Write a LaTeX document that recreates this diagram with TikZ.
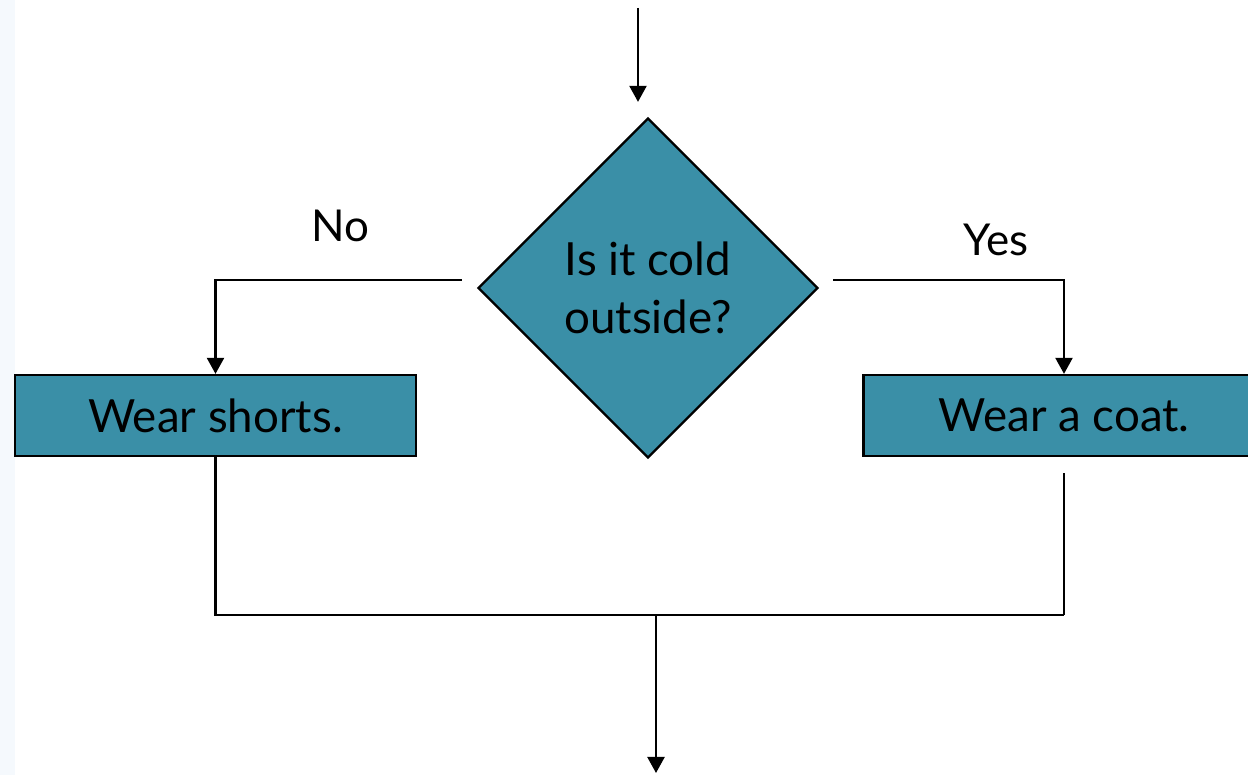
\documentclass[tikz,border=0pt]{standalone}
\usepackage{fontspec}
\setmainfont{Lato}
\usetikzlibrary{arrows.meta,positioning,shapes.geometric}
\definecolor{tealbox}{HTML}{3A8FA7}
\definecolor{edgestrip}{HTML}{F5F9FD}

\begin{document}
\begin{tikzpicture}[
    every node/.style={font=\fontsize{26}{33}\selectfont},
    flowline/.style={line width=1.3pt, black},
    flowarrow/.style={flowline, -{Triangle[length=0.32cm, width=0.34cm]}},
    actionbox/.style={draw=black, line width=1.3pt, fill=tealbox, minimum width=8.02cm, minimum height=1.62cm, inner sep=0pt},
    decisionbox/.style={diamond, draw=black, line width=1.3pt, fill=tealbox, minimum width=6.8cm, minimum height=6.8cm, inner sep=0pt, align=center},
    branchlabel/.style={font=\fontsize{25}{30}\selectfont},
]
\useasboundingbox (0,0) rectangle (24.96,15.5);
\fill[edgestrip] (0,0) rectangle (0.3,15.5);

% Decision and the two actions
\node[decisionbox] (cold) at (12.96,9.74) {Is it cold\\outside?};
\node[actionbox] (shorts) at (4.31,7.19) {Wear shorts.};
\node[actionbox] (coat) at (21.28,7.19) {Wear a coat.};

% Entry and exit points
\coordinate (entry) at (12.76,15.34);
\coordinate (merge) at (13.12,3.2);
\coordinate (exit) at (13.12,0.04);

% Into the decision
\draw[flowarrow, shorten >=0.3cm] (entry) -- (entry |- cold.north);

% No branch
\draw[flowarrow] ([xshift=-0.3cm, yshift=0.16cm]cold.west) -| (shorts.north);
\node[branchlabel] (nolabel) at (6.8,10.98) {No};

% Yes branch
\draw[flowarrow] ([xshift=0.28cm, yshift=0.16cm]cold.east) -| (coat.north);
\node[branchlabel] (yeslabel) at (19.92,10.7) {Yes};

% Join both actions and leave
\draw[flowline] (shorts.south) |- (coat.south |- merge);
\draw[flowline, shorten <=0.32cm] (coat.south) -- (coat.south |- merge);
\draw[flowarrow] (merge) -- (exit);

\end{tikzpicture}
\end{document}
